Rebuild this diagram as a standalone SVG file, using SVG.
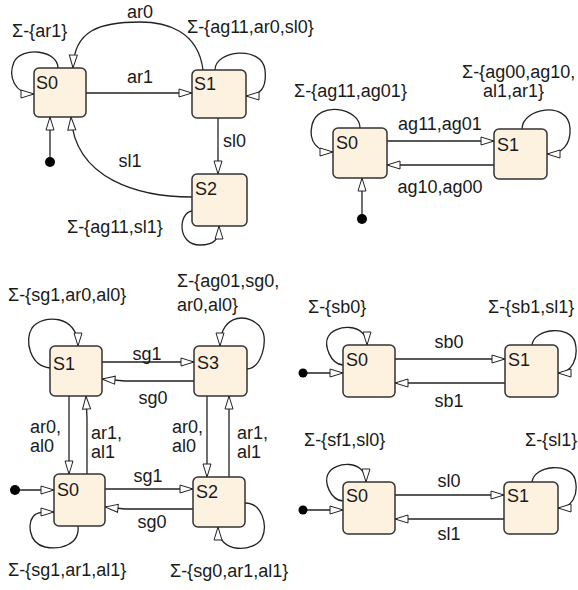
<svg xmlns="http://www.w3.org/2000/svg" width="578" height="590" viewBox="0 0 578 590">
<style>
.st{fill:#fdf2e0;stroke:#333;stroke-width:1.5}
.t{font-family:"Liberation Sans",Arial,sans-serif;font-size:18px;fill:#1a1a1a}
.m{text-anchor:middle}
.e{fill:none;stroke:#222;stroke-width:1.3;marker-end:url(#arr)}
.dot{fill:#000}
</style>
<defs>
<marker id="arr" markerUnits="userSpaceOnUse" markerWidth="15" markerHeight="11" viewBox="0 0 15 11" refX="14" refY="5.5" orient="auto">
<path d="M1,1.5 L14,5.5 L1,9.5 Z" fill="#fff" stroke="#222" stroke-width="1"/>
</marker>
</defs>
<rect width="578" height="590" fill="#fff"/>

<!-- Connectors -->
<g id="connectors">
 <!-- Diagram 1 -->
 <path class="e" d="M58,68 C58,50 22,46 14,62 C8,76 14,94 34,94"/>
 <path class="e" d="M203,70 C198,30 165,22 140,22 C100,22 74,30 73,68"/>
 <path class="e" d="M86,93 L192,93"/>
 <path class="e" d="M215,70 C215,50 262,45 265,70 C267,88 260,96 246,96"/>
 <path class="e" d="M218,118 L218,174"/>
 <path class="e" d="M192,197 C140,197 75,180 71,117"/>
 <path class="e" d="M50,157 L50,117"/>
 <path class="e" d="M192,211 C178,213 177,245 200,245 C214,245 219,240 219,226"/>
 <!-- Diagram 2 -->
 <path class="e" d="M387,141 L494,141"/>
 <path class="e" d="M494,165 L387,165"/>
 <path class="e" d="M360,128 C360,108 318,100 312,125 C308,142 318,152 333,152"/>
 <path class="e" d="M522,129 C522,108 568,100 570,128 C571,145 562,154 547,154"/>
 <path class="e" d="M362,214 L362,178"/>
 <!-- Diagram 3 -->
 <path class="e" d="M102,362 L194,362"/>
 <path class="e" d="M194,381 L125,381 L102,379"/>
 <path class="e" d="M69,396 L69,474"/>
 <path class="e" d="M87,474 L87,418 L86,396"/>
 <path class="e" d="M207,396 L207,477"/>
 <path class="e" d="M229,477 L229,396"/>
 <path class="e" d="M105,489 L193,489"/>
 <path class="e" d="M193,509 L125,509 L105,507"/>
 <path class="e" d="M15,490 L54,490"/>
 <path class="e" d="M50,368 C30,366 24,340 32,328 C42,314 78,314 78,346"/>
 <path class="e" d="M247,369 C262,368 268,340 262,330 C252,312 220,312 220,346"/>
 <path class="e" d="M78,526 C80,545 60,550 45,547 C28,543 26,520 36,514 C42,511 48,512 54,512"/>
 <path class="e" d="M245,503 C262,503 268,525 262,538 C255,552 218,555 218,527"/>
 <!-- Diagram 4 -->
 <path class="e" d="M395,359 L505,359"/>
 <path class="e" d="M505,383 L395,383"/>
 <path class="e" d="M303,373 L343,373"/>
 <path class="e" d="M343,365 C330,364 324,345 328,337 C334,324 367,322 367,345"/>
 <path class="e" d="M532,345 C534,328 570,325 575,342 C579,358 572,373 558,373"/>
 <!-- Diagram 5 -->
 <path class="e" d="M395,495 L504,495"/>
 <path class="e" d="M504,519 L395,519"/>
 <path class="e" d="M303,510 L343,510"/>
 <path class="e" d="M343,501 C330,500 324,482 328,474 C334,461 366,459 366,482"/>
 <path class="e" d="M532,482 C534,465 570,462 575,479 C579,495 572,508 558,508"/>

 <!-- initial dots -->
 <circle class="dot" cx="50" cy="162" r="5"/>
 <circle class="dot" cx="362" cy="219" r="5"/>
 <circle class="dot" cx="15" cy="490" r="5"/>
 <circle class="dot" cx="303" cy="373" r="4.5"/>
 <circle class="dot" cx="303" cy="510" r="4.5"/>
</g>

<!-- Edge labels -->
<g id="labels">
 <text class="t" x="12" y="37">Σ-{ar1}</text>
 <text class="t m" x="140" y="18">ar0</text>
 <text class="t m" x="140" y="83">ar1</text>
 <text class="t" x="187" y="33">Σ-{ag11,ar0,sl0}</text>
 <text class="t" x="223" y="147">sl0</text>
 <text class="t m" x="130" y="167">sl1</text>
 <text class="t" x="67" y="233">Σ-{ag11,sl1}</text>

 <text class="t" x="294" y="97">Σ-{ag11,ag01}</text>
 <text class="t" x="462" y="78">Σ-{ag00,ag10,</text>
 <text class="t" x="483" y="97">al1,ar1}</text>
 <text class="t m" x="440" y="130">ag11,ag01</text>
 <text class="t m" x="440" y="193">ag10,ag00</text>

 <text class="t" x="8" y="301">Σ-{sg1,ar0,al0}</text>
 <text class="t" x="177" y="287">Σ-{ag01,sg0,</text>
 <text class="t" x="177" y="311">ar0,al0}</text>
 <text class="t m" x="147" y="360">sg1</text>
 <text class="t m" x="153" y="404">sg0</text>
 <text class="t" x="30" y="433">ar0,</text>
 <text class="t" x="30" y="452">al0</text>
 <text class="t" x="91" y="439">ar1,</text>
 <text class="t" x="91" y="458">al1</text>
 <text class="t" x="172" y="433">ar0,</text>
 <text class="t" x="172" y="452">al0</text>
 <text class="t" x="237" y="439">ar1,</text>
 <text class="t" x="237" y="458">al1</text>
 <text class="t m" x="148" y="482">sg1</text>
 <text class="t m" x="152" y="528">sg0</text>
 <text class="t" x="8" y="576">Σ-{sg1,ar1,al1}</text>
 <text class="t" x="170" y="577">Σ-{sg0,ar1,al1}</text>

 <text class="t" x="308" y="313">Σ-{sb0}</text>
 <text class="t" x="488" y="313">Σ-{sb1,sl1}</text>
 <text class="t m" x="449" y="348">sb0</text>
 <text class="t m" x="449" y="407">sb1</text>

 <text class="t" x="304" y="446">Σ-{sf1,sl0}</text>
 <text class="t" x="525" y="446">Σ-{sl1}</text>
 <text class="t m" x="449" y="487">sl0</text>
 <text class="t m" x="449" y="540">sl1</text>
</g>

<!-- Nodes -->
<g id="d1-S0"><rect class="st" x="34" y="68" width="52" height="49" rx="5"/><text class="t" x="36" y="89">S0</text></g>
<g id="d1-S1"><rect class="st" x="192" y="70" width="54" height="48" rx="5"/><text class="t" x="194" y="90">S1</text></g>
<g id="d1-S2"><rect class="st" x="192" y="174" width="55" height="52" rx="5"/><text class="t" x="195" y="195">S2</text></g>

<g id="d2-S0"><rect class="st" x="333" y="128" width="54" height="50" rx="5"/><text class="t" x="336" y="149">S0</text></g>
<g id="d2-S1"><rect class="st" x="494" y="129" width="53" height="50" rx="5"/><text class="t" x="497" y="151">S1</text></g>

<g id="d3-S1"><rect class="st" x="50" y="346" width="52" height="50" rx="5"/><text class="t" x="53" y="370">S1</text></g>
<g id="d3-S3"><rect class="st" x="194" y="346" width="53" height="50" rx="5"/><text class="t" x="197" y="369">S3</text></g>
<g id="d3-S0"><rect class="st" x="54" y="474" width="51" height="52" rx="5"/><text class="t" x="57" y="496">S0</text></g>
<g id="d3-S2"><rect class="st" x="193" y="477" width="52" height="50" rx="5"/><text class="t" x="196" y="498">S2</text></g>

<g id="d4-S0"><rect class="st" x="343" y="345" width="52" height="52" rx="5"/><text class="t" x="346" y="366">S0</text></g>
<g id="d4-S1"><rect class="st" x="505" y="345" width="53" height="52" rx="5"/><text class="t" x="508" y="366">S1</text></g>

<g id="d5-S0"><rect class="st" x="343" y="482" width="52" height="52" rx="5"/><text class="t" x="346" y="502">S0</text></g>
<g id="d5-S1"><rect class="st" x="504" y="482" width="54" height="52" rx="5"/><text class="t" x="507" y="502">S1</text></g>
</svg>
